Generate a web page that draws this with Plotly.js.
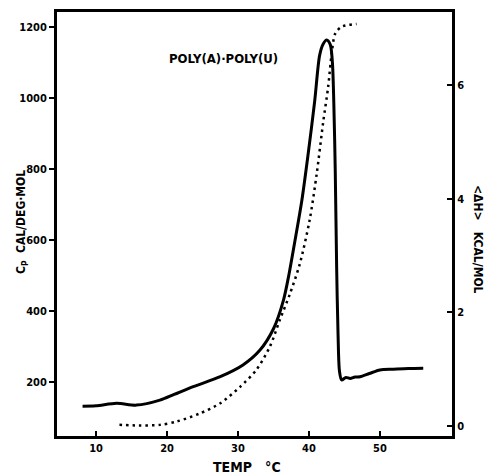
<!DOCTYPE html>
<html><head><meta charset="utf-8">
<script src="https://cdn.plot.ly/plotly-3.0.1.min.js"></script>
<style>html,body{margin:0;padding:0;background:#fff}#c{width:489px;height:475px}</style>
</head><body><div id="c"></div>
<script>
// Cp curve (left axis)
var tempCp = [8.1, 10, 12.9, 15.7, 19, 21, 23.7, 27.5, 30.7, 33.1, 35, 36.4, 37.2, 38.0, 39.0, 39.9, 40.8, 41.5, 42.0, 42.5, 43.0, 43.3, 43.5, 43.7, 43.9, 44.1, 44.3, 44.6, 45.2, 45.8, 46.5, 47.2, 48.5, 50.0, 51.9, 54, 56.1];
var cpValues = [132, 133, 140, 135, 149, 165, 187, 215, 248, 290, 350, 430, 505, 595, 712, 845, 990, 1120, 1152, 1163, 1150, 1100, 985, 797, 521, 330, 230, 206, 213, 210, 214, 215, 224, 234, 236, 238, 239];
// <ΔH> curve (right axis)
var tempDH = [13.3, 16, 19, 21.4, 24.6, 27.5, 30.3, 32.6, 34.5, 35.9, 37.3, 38.7, 40.1, 41.1, 42.0, 42.7, 43.2, 43.7, 44.6, 46.7];
var dhValues = [0.02, 0.01, 0.02, 0.08, 0.22, 0.40, 0.69, 0.99, 1.40, 1.87, 2.32, 2.85, 3.63, 4.45, 5.35, 5.97, 6.56, 6.91, 7.03, 7.08];
var xTicks = [10, 20, 30, 40, 50];
var yTicks = [200, 400, 600, 800, 1000, 1200];
var y2Ticks = [0, 2, 4, 6];

var F = "'Liberation Sans Narrow','DejaVu Sans Condensed','DejaVu Sans', sans-serif";
var traces = [
  {x: tempCp, y: cpValues, type: 'scatter', mode: 'lines', line: {color: '#000', width: 3, shape: 'spline', smoothing: 0.8}, yaxis: 'y', hoverinfo: 'none'},
  {x: tempDH, y: dhValues, type: 'scatter', mode: 'lines', line: {color: '#000', width: 2.5, dash: '2.5px,4px', shape: 'spline', smoothing: 0.8}, yaxis: 'y2', hoverinfo: 'none'}
];
var tf = {family: F, size: 11, color: '#000', weight: 'bold'};
function px2x(p) { return (p - 57) / 395; }
function py2y(p) { return (436 - p) / 424; }
var layout = {
  width: 489, height: 475,
  margin: {l: 57, r: 37, t: 12, b: 39},
  paper_bgcolor: '#fff', plot_bgcolor: '#fff',
  showlegend: false,
  xaxis: {range: [4.5, 60.15], tickvals: xTicks, ticktext: xTicks.map(String), ticks: 'inside', ticklen: 5, tickwidth: 2, tickcolor: '#000',
          showline: true, linewidth: 3, linecolor: '#000', mirror: true, showgrid: false, zeroline: false, tickfont: tf},
  yaxis: {range: [48, 1242], tickvals: yTicks, ticktext: yTicks.map(String), ticks: 'outside', ticklen: 5, tickwidth: 2, tickcolor: '#000',
          showline: true, linewidth: 3, linecolor: '#000', showgrid: false, zeroline: false, tickfont: tf},
  yaxis2: {overlaying: 'y', side: 'right', range: [-0.176, 7.29], tickvals: y2Ticks, ticktext: y2Ticks.map(String), ticks: 'inside', ticklen: 5, tickwidth: 2, tickcolor: '#000',
          showline: true, linewidth: 3, linecolor: '#000', showgrid: false, zeroline: false, tickfont: tf},
  annotations: [
    {text: 'POLY(A)·POLY(U)', xref: 'paper', yref: 'paper', x: px2x(223), y: py2y(59), xanchor: 'center', yanchor: 'middle', showarrow: false, font: {family: F, size: 13, color: '#000', weight: 'bold'}},
    {text: 'C<sub>P</sub>  CAL/DEG·MOL', xref: 'paper', yref: 'paper', x: px2x(22), y: py2y(222), xanchor: 'center', yanchor: 'middle', textangle: -90, showarrow: false, font: {family: F, size: 12, color: '#000', weight: 'bold'}},
    {text: '&lt;ΔH&gt;   KCAL/MOL', xref: 'paper', yref: 'paper', x: px2x(478), y: py2y(240), xanchor: 'center', yanchor: 'middle', textangle: 90, showarrow: false, font: {family: F, size: 12, color: '#000', weight: 'bold'}},
    {text: 'TEMP   °C', xref: 'paper', yref: 'paper', x: px2x(247), y: py2y(467), xanchor: 'center', yanchor: 'middle', showarrow: false, font: {family: F, size: 14, color: '#000', weight: 'bold'}}
  ]
};
Plotly.newPlot('c', traces, layout, {staticPlot: true});
</script></body></html>
